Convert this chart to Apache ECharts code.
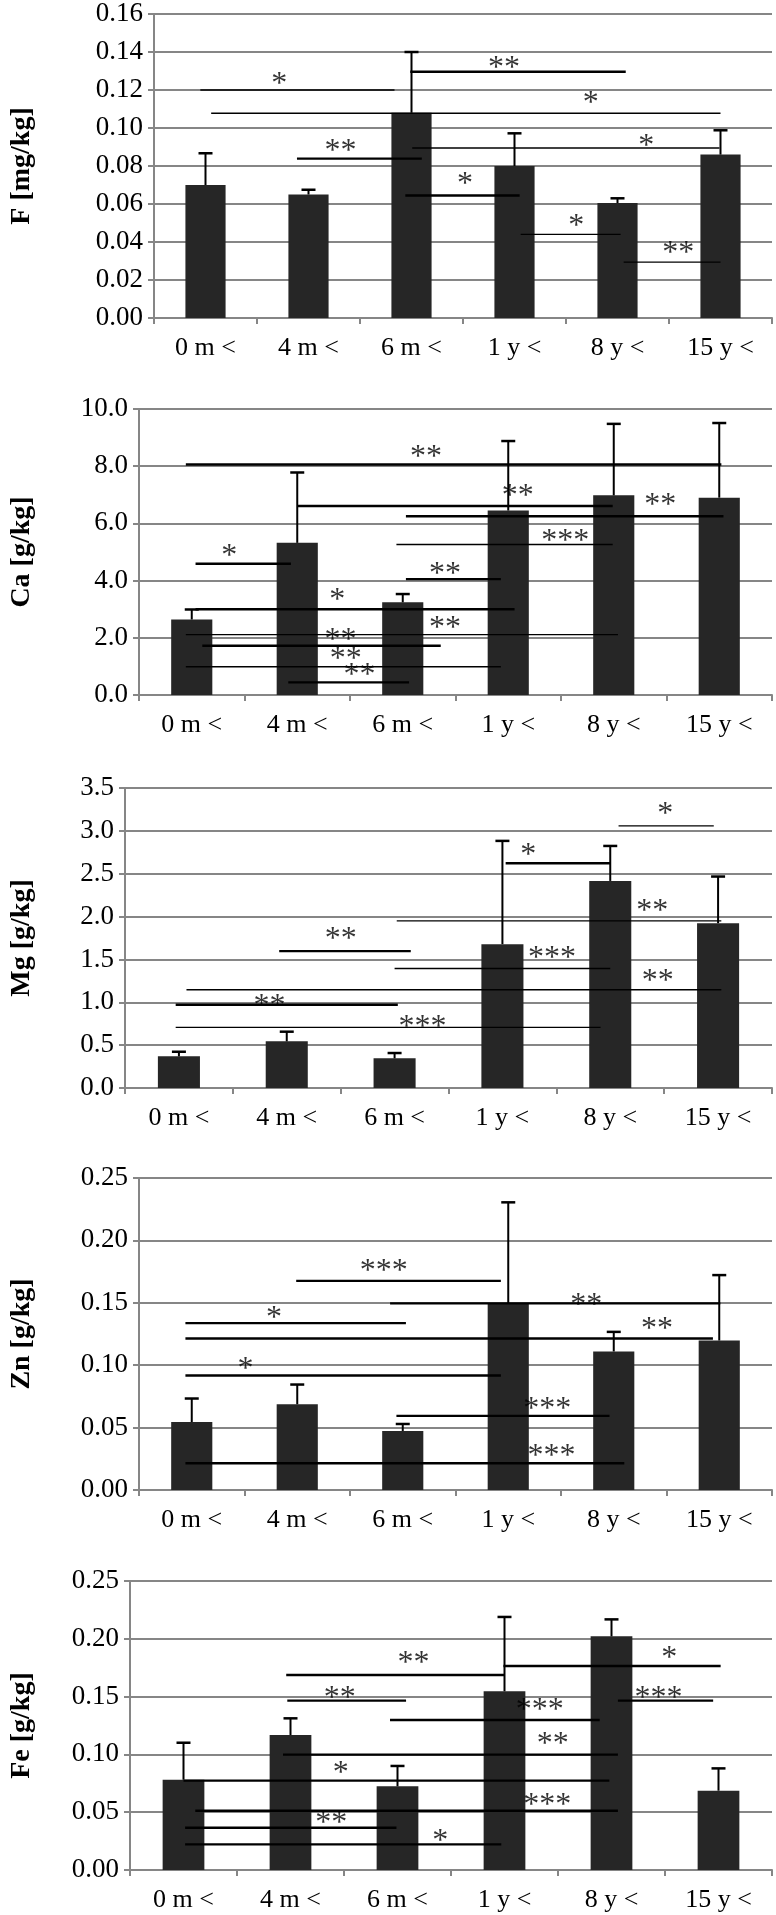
<!DOCTYPE html>
<html>
<head>
<meta charset="utf-8">
<script src="https://cdn.jsdelivr.net/npm/echarts@6/dist/echarts.min.js"></script>
<style>
html,body{margin:0;padding:0;background:#fff;}
#chart{width:776px;height:1915px;}
</style>
</head>
<body>
<div id="chart"></div>
<script>
// ---------- DATA ----------
const categories = ['0 m <', '4 m <', '6 m <', '1 y <', '8 y <', '15 y <'];

const fMean = [0.070, 0.065, 0.108, 0.080, 0.0605, 0.086];
const fErr  = [0.0167, 0.0025, 0.032, 0.0172, 0.0025, 0.0128];
const caMean = [2.64, 5.32, 3.24, 6.45, 6.98, 6.90];
const caErr  = [0.35, 2.46, 0.29, 2.43, 2.50, 2.61];
const mgMean = [0.369, 0.544, 0.346, 1.678, 2.416, 1.923];
const mgErr  = [0.054, 0.113, 0.062, 1.205, 0.408, 0.544];
const znMean = [0.0545, 0.0687, 0.0473, 0.1497, 0.111, 0.1198];
const znErr  = [0.0188, 0.0158, 0.0056, 0.0808, 0.0157, 0.0524];
const feMean = [0.0781, 0.1168, 0.0724, 0.1546, 0.2021, 0.0686];
const feErr  = [0.032, 0.0144, 0.0176, 0.0643, 0.0147, 0.0193];

// significance brackets: [from (category index), to (category index), value, weight 1=thin 2=thick]
const fSig = [
  [-0.05, 1.835, 0.1200, 1], [1.988, 4.08, 0.1296, 2], [0.055, 5.0, 0.1078, 1],
  [0.888, 2.10, 0.0839, 2], [2.007, 4.99, 0.0895, 1], [1.94, 3.05, 0.0645, 2],
  [3.06, 4.03, 0.0440, 1], [4.06, 5.0, 0.0294, 1]
];
const fStars = [
  [0.715, 0.1254, '*'], [2.897, 0.1340, '**'], [3.74, 0.1157, '*'], [1.31, 0.0902, '**'],
  [4.28, 0.0928, '*'], [2.52, 0.0731, '*'], [3.60, 0.0506, '*'], [4.59, 0.0366, '**']
];
const caSig = [
  [-0.056, 5.02, 8.06, 2], [1.007, 3.99, 6.61, 2], [2.03, 5.04, 6.25, 2],
  [1.94, 3.99, 5.26, 1], [0.036, 0.94, 4.59, 2], [2.03, 2.93, 4.05, 2],
  [0.036, 3.06, 3.00, 2], [-0.056, 4.04, 2.11, 1], [0.10, 2.36, 1.72, 2],
  [-0.056, 2.93, 0.99, 1], [0.915, 2.06, 0.44, 2]
];
const caStars = [
  [2.22, 8.46, '**'], [3.09, 7.12, '**'], [4.44, 6.79, '**'], [3.54, 5.53, '***'],
  [0.355, 5.00, '*'], [2.40, 4.37, '**'], [1.38, 3.49, '*'], [2.40, 2.50, '**'],
  [1.41, 2.06, '**'], [1.46, 1.40, '**'], [1.59, 0.85, '**']
];
const mgSig = [
  [4.077, 4.96, 3.058, 1], [3.03, 4.0, 2.622, 2], [2.02, 5.03, 1.950, 1],
  [0.93, 2.15, 1.597, 2], [2.0, 4.0, 1.395, 1], [0.07, 5.03, 1.146, 1],
  [-0.03, 2.03, 0.971, 2], [-0.03, 3.91, 0.707, 1]
];
const mgStars = [
  [4.51, 3.244, '*'], [3.24, 2.77, '*'], [4.39, 2.117, '**'], [1.50, 1.787, '**'],
  [3.46, 1.573, '***'], [4.44, 1.30, '**'], [0.84, 1.01, '**'], [2.26, 0.758, '***']
];
const znSig = [
  [0.99, 2.93, 0.1676, 2], [1.88, 5.01, 0.1495, 2], [-0.06, 2.03, 0.1337, 2],
  [-0.06, 4.94, 0.1214, 2], [-0.06, 2.93, 0.0917, 2], [1.94, 3.96, 0.0594, 2],
  [-0.06, 4.10, 0.0214, 2]
];
const znStars = [
  [1.82, 0.179, '***'], [3.74, 0.1516, '**'], [0.78, 0.1417, '*'], [4.41, 0.1323, '**'],
  [0.51, 0.1008, '*'], [3.37, 0.0682, '***'], [3.41, 0.0307, '***']
];
const feSig = [
  [2.99, 5.02, 0.1765, 2], [0.96, 3.0, 0.1687, 2], [0.97, 2.08, 0.1465, 2],
  [4.06, 4.95, 0.1465, 2], [1.93, 3.89, 0.1298, 2], [0.93, 4.06, 0.0998, 2],
  [0.0, 3.98, 0.0773, 2], [0.11, 4.06, 0.0513, 2], [0.015, 1.99, 0.0366, 2],
  [0.015, 2.97, 0.0222, 2]
];
const feStars = [
  [4.54, 0.1874, '*'], [2.15, 0.1831, '**'], [1.46, 0.1528, '**'], [4.44, 0.1528, '***'],
  [3.33, 0.1419, '***'], [3.45, 0.1125, '**'], [1.47, 0.088, '*'], [3.40, 0.060, '***'],
  [1.38, 0.0447, '**'], [2.40, 0.0288, '*']
];

// y-axis settings per panel
const yNames = ['F [mg/kg]', 'Ca [g/kg]', 'Mg [g/kg]', 'Zn [g/kg]', 'Fe [g/kg]'];
const yMax = [0.16, 10, 3.5, 0.25, 0.25];
const yStep = [0.02, 2, 0.5, 0.05, 0.05];
const yDecimals = [2, 1, 1, 2, 2];

// ---------- LAYOUT ----------
const panels = [
  { mean: fMean, err: fErr, sig: fSig, stars: fStars, left: 145, top: 14, height: 304, gap: 118 },
  { mean: caMean, err: caErr, sig: caSig, stars: caStars, left: 130, top: 409, height: 286, gap: 103 },
  { mean: mgMean, err: mgErr, sig: mgSig, stars: mgStars, left: 115, top: 788, height: 300, gap: 89 },
  { mean: znMean, err: znErr, sig: znSig, stars: znStars, left: 130, top: 1178, height: 312, gap: 103 },
  { mean: feMean, err: feErr, sig: feSig, stars: feStars, left: 121, top: 1581, height: 289, gap: 94 }
];

const FONT = '"Liberation Serif", "Times New Roman", serif';
const AXIS_GRAY = '#868686';
const BAR_COLOR = '#262626';

const grid = [], xAxis = [], yAxis = [], series = [];

panels.forEach((p, k) => {
  grid.push({ left: p.left, right: 4, top: p.top, height: p.height, containLabel: false });
  // visible category axis
  xAxis.push({
    type: 'category', gridIndex: k, data: categories,
    axisLine: { onZero: false, lineStyle: { color: AXIS_GRAY, width: 2 } },
    axisTick: { show: true, length: 6, lineStyle: { color: AXIS_GRAY, width: 2 } },
    axisLabel: { color: '#000', fontFamily: FONT, fontSize: 26, margin: 17 }
  });
  // hidden value axis spanning the same width for annotations
  xAxis.push({ type: 'value', gridIndex: k, min: -0.5, max: 5.5, show: false });
  yAxis.push({
    type: 'value', gridIndex: k, min: 0, max: yMax[k], interval: yStep[k],
    name: yNames[k], nameLocation: 'middle', nameRotate: 90, nameGap: p.gap,
    nameTextStyle: { fontFamily: FONT, fontSize: 28, fontWeight: 'bold', color: '#000' },
    axisLine: { show: true, onZero: false, lineStyle: { color: AXIS_GRAY, width: 2 } },
    axisTick: { show: true, length: 6, lineStyle: { color: AXIS_GRAY, width: 2 } },
    axisLabel: { color: '#000', fontFamily: FONT, fontSize: 27, margin: 11,
      formatter: v => v.toFixed(yDecimals[k]) },
    splitLine: { show: true, lineStyle: { color: AXIS_GRAY, width: 2 } }
  });

  const catAxis = 2 * k, valAxis = 2 * k + 1;

  series.push({
    type: 'bar', xAxisIndex: catAxis, yAxisIndex: k, data: p.mean,
    barWidth: '39%', itemStyle: { color: BAR_COLOR }, z: 3, silent: true
  });

  // error bars (upper only)
  series.push({
    type: 'custom', xAxisIndex: valAxis, yAxisIndex: k, z: 4, silent: true,
    data: p.mean.map((m, i) => [i, m, m + p.err[i]]),
    encode: { x: 0, y: [1, 2] },
    renderItem: (params, api) => {
      const b = api.coord([api.value(0), api.value(1)]);
      const t = api.coord([api.value(0), api.value(2)]);
      return {
        type: 'group', children: [
          { type: 'line', shape: { x1: b[0], y1: b[1], x2: t[0], y2: t[1] }, style: { stroke: '#000', lineWidth: 2 } },
          { type: 'line', shape: { x1: t[0] - 7, y1: t[1], x2: t[0] + 7, y2: t[1] }, style: { stroke: '#000', lineWidth: 2.5 } }
        ]
      };
    }
  });

  // significance lines
  series.push({
    type: 'custom', xAxisIndex: valAxis, yAxisIndex: k, z: 5, silent: true,
    data: p.sig,
    encode: { x: [0, 1], y: 2 },
    renderItem: (params, api) => {
      const a = api.coord([api.value(0), api.value(2)]);
      const b = api.coord([api.value(1), api.value(2)]);
      return { type: 'line', shape: { x1: a[0], y1: a[1], x2: b[0], y2: b[1] },
        style: { stroke: '#000', lineWidth: api.value(3) === 2 ? 2.4 : 1.4 } };
    }
  });

  // significance stars
  series.push({
    type: 'scatter', xAxisIndex: valAxis, yAxisIndex: k, z: 6, silent: true,
    symbolSize: 0, data: p.stars,
    label: { show: true, position: 'inside', offset: [0, 5], formatter: q => q.value[2],
      fontFamily: FONT, fontSize: 32, color: '#000' }
  });
});

const chart = echarts.init(document.getElementById('chart'), null, { renderer: 'canvas' });
chart.setOption({ animation: false, backgroundColor: '#fff', grid, xAxis, yAxis, series });
</script>
</body>
</html>
